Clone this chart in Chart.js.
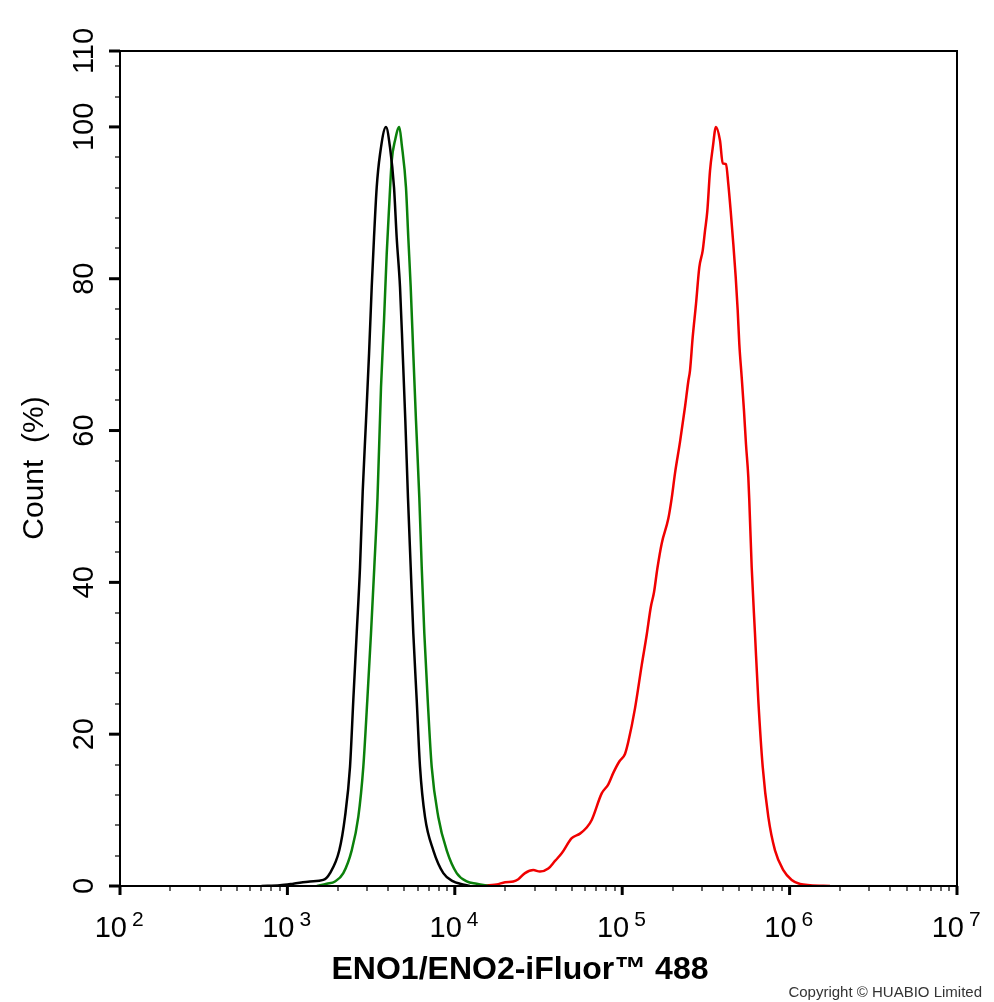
<!DOCTYPE html>
<html>
<head>
<meta charset="utf-8">
<title>ENO1/ENO2 flow histogram</title>
<script src="https://cdn.jsdelivr.net/npm/chart.js@4.4.1/dist/chart.umd.min.js"></script>
<style>
  html, body { margin: 0; padding: 0; background: #fff; }
  #wrap { width: 994px; height: 1002px; }
</style>
</head>
<body>
<div id="wrap"><canvas id="histChart" width="994" height="1002"></canvas></div>
<script>
// isotype control (black)
const blackX = [700, 903, 1084, 1365, 1639, 1797, 2042, 2208, 2366, 2476, 2594, 2715, 2818, 2949, 3074, 3189, 3291, 3415, 3575, 3881,
  4102, 4335, 4497, 4707, 4886, 5064, 5253, 5452, 5651, 5922, 6197, 6637, 7440, 8538, 9795, 10740, 12330];
const blackY = [0, 0.1, 0.3, 0.6, 0.8, 1.7, 4.7, 9.1, 15.7, 24.5, 33.3, 42.0, 52.0, 61.3, 70.1, 78.9, 85.4, 92.0, 96.4, 100,
  97.3, 92.0, 85.4, 78.9, 70.1, 61.3, 51.1, 42.0, 33.3, 24.5, 15.7, 9.1, 4.7, 1.7, 0.6, 0.3, 0];

// unstained / blank (green)
const greenX = [1500, 1717, 1925, 2158, 2422, 2652, 2841, 3002, 3158, 3305, 3454, 3624, 3777, 3920, 4062, 4198, 4393, 4660,
  4818, 5110, 5275, 5452, 5651, 5864, 6137, 6344, 6575, 6889, 7278, 7969, 8946, 10264, 11780, 13517, 16000];
const greenY = [0, 0.3, 0.6, 1.7, 4.7, 9.1, 15.7, 24.5, 33.3, 42.0, 51.2, 65.7, 74.5, 83.3, 89.9, 95.5, 98.2, 100,
  97.7, 92.0, 85.4, 78.9, 70.1, 61.3, 51.2, 42.0, 33.3, 24.5, 15.7, 9.1, 4.7, 1.7, 0.6, 0.3, 0];

// ENO1/ENO2 stained (red)
const redX = [14140, 17800, 19950, 22370, 23960, 26270, 29440, 32280, 36180, 39680, 43520, 49930, 55970, 61370, 65750,
  75430, 82610, 88470, 96100, 103900, 108750, 119250, 130800, 140100, 148050, 154900, 162100, 172100, 188600, 197600,
  206800, 221500, 237200, 248300, 254100, 263700, 276000, 288800, 302600, 312300, 322400, 334600, 347200, 363400,
  383900, 398500, 417000, 430300, 444800, 461000, 476500, 489800, 500700, 517500, 534100, 548900, 566600, 574400,
  593700, 621300, 650100, 690900, 746200, 818100, 917100, 1029000, 1154000, 1325000, 1743000];
const redY = [0, 0.2, 0.5, 0.6, 0.9, 1.7, 2.1, 1.9, 2.3, 3.3, 4.3, 6.3, 6.9, 7.7, 8.7,
  12.2, 13.4, 14.9, 16.4, 17.4, 19.0, 23.4, 29.1, 33.1, 36.7, 38.7, 41.8, 45.1, 48.4, 51.1,
  54.4, 58.5, 63.1, 66.5, 67.9, 72.3, 76.7, 81.5, 83.7, 86.3, 88.9, 94.2, 97.2, 100,
  98.2, 95.2, 95.1, 92.5, 88.9, 84.6, 80.2, 75.8, 71.4, 67.0, 62.6, 58.2, 53.9, 50.8,
  42.0, 33.2, 24.5, 15.7, 9.1, 4.7, 2.1, 0.8, 0.26, 0.1, 0];

// axis ticks
const yTickLabels = [0, 20, 40, 60, 80, 100, 110];
const yMinorTicks = [4, 8, 12, 16, 24, 28, 32, 36, 44, 48, 52, 56, 64, 68, 72, 76, 84, 88, 92, 96, 104, 108];
const xDecades = [2, 3, 4, 5, 6, 7];
const xMinorMult = [2, 3, 4, 5, 6, 7, 8, 9];

const FONT = '"Liberation Sans", Arial, Helvetica, sans-serif';

function toPoints(xs, ys) {
  return xs.map((x, i) => ({ x: x, y: ys[i] }));
}

function tick(ctx, x1, y1, x2, y2) {
  ctx.beginPath();
  ctx.moveTo(x1, y1);
  ctx.lineTo(x2, y2);
  ctx.stroke();
}

// draws frame, ticks, superscript labels and titles
const axisPlugin = {
  id: 'axisPlugin',
  afterDraw(chart) {
    const { ctx, chartArea: a, scales } = chart;
    const xs = scales.x, ys = scales.y;
    ctx.save();

    // minor ticks
    ctx.strokeStyle = '#666';
    ctx.lineWidth = 2;
    yMinorTicks.forEach(v => {
      const py = Math.round(ys.getPixelForValue(v));
      tick(ctx, a.left - 5, py, a.left, py);
    });
    xDecades.slice(0, -1).forEach(d => {
      xMinorMult.forEach(m => {
        const px = Math.round(xs.getPixelForValue(m * Math.pow(10, d)));
        tick(ctx, px, a.bottom, px, a.bottom + 5);
      });
    });

    // major ticks
    ctx.strokeStyle = '#000';
    ctx.lineWidth = 3;
    yTickLabels.forEach(v => {
      const py = ys.getPixelForValue(v);
      tick(ctx, a.left - 11, py, a.left, py);
    });
    xDecades.forEach(d => {
      const px = xs.getPixelForValue(Math.pow(10, d));
      tick(ctx, px, a.bottom, px, a.bottom + 9);
    });

    // frame
    ctx.lineWidth = 2;
    ctx.strokeRect(a.left, a.top, a.right - a.left, a.bottom - a.top);

    ctx.fillStyle = '#000';

    // y labels, rotated
    ctx.font = '29px ' + FONT;
    ctx.textAlign = 'center';
    ctx.textBaseline = 'alphabetic';
    yTickLabels.forEach(v => {
      const py = ys.getPixelForValue(v);
      ctx.save();
      ctx.translate(93, py);
      ctx.rotate(-Math.PI / 2);
      ctx.fillText(String(v), 0, 0);
      ctx.restore();
    });

    // x labels 10^n
    xDecades.forEach(d => {
      const px = xs.getPixelForValue(Math.pow(10, d));
      ctx.font = '29px ' + FONT;
      ctx.textAlign = 'right';
      ctx.fillText('10', px + 7, 937);
      ctx.font = '21px ' + FONT;
      ctx.textAlign = 'left';
      ctx.fillText(String(d), px + 12, 926);
    });

    // y title
    ctx.save();
    ctx.font = '30px ' + FONT;
    ctx.textAlign = 'center';
    ctx.translate(43, 468);
    ctx.rotate(-Math.PI / 2);
    ctx.fillText('Count  (%)', 0, 0);
    ctx.restore();

    // x title
    ctx.font = 'bold 32px ' + FONT;
    ctx.textAlign = 'center';
    ctx.fillText('ENO1/ENO2-iFluor\u2122 488', 520, 979);

    // copyright
    ctx.font = '15px ' + FONT;
    ctx.fillStyle = '#333';
    ctx.textAlign = 'right';
    ctx.fillText('Copyright \u00A9 HUABIO Limited', 982, 997);

    ctx.restore();
  }
};

const lineStyle = {
  showLine: true,
  pointRadius: 0,
  borderWidth: 2.5,
  fill: false,
  cubicInterpolationMode: 'monotone'
};

const ctx = document.getElementById('histChart').getContext('2d');
const chart = new Chart(ctx, {
  type: 'scatter',
  data: {
    datasets: [
      Object.assign({ label: 'Control', data: toPoints(blackX, blackY), borderColor: '#000000' }, lineStyle),
      Object.assign({ label: 'Blank', data: toPoints(greenX, greenY), borderColor: '#0b800b' }, lineStyle),
      Object.assign({ label: 'ENO1/ENO2', data: toPoints(redX, redY), borderColor: '#f00000' }, lineStyle)
    ]
  },
  options: {
    responsive: false,
    animation: false,
    devicePixelRatio: 1,
    layout: { padding: { left: 0, top: 51, right: 37, bottom: 0 } },
    plugins: {
      legend: { display: false },
      tooltip: { enabled: false }
    },
    scales: {
      x: {
        type: 'logarithmic',
        min: 100,
        max: 10000000,
        grid: { display: false },
        border: { display: false },
        ticks: { display: false },
        afterFit(scale) { scale.height = 116; }
      },
      y: {
        type: 'linear',
        min: 0,
        max: 110,
        grid: { display: false },
        border: { display: false },
        ticks: { display: false },
        afterFit(scale) { scale.width = 120; }
      }
    }
  },
  plugins: [axisPlugin]
});
</script>
</body>
</html>
